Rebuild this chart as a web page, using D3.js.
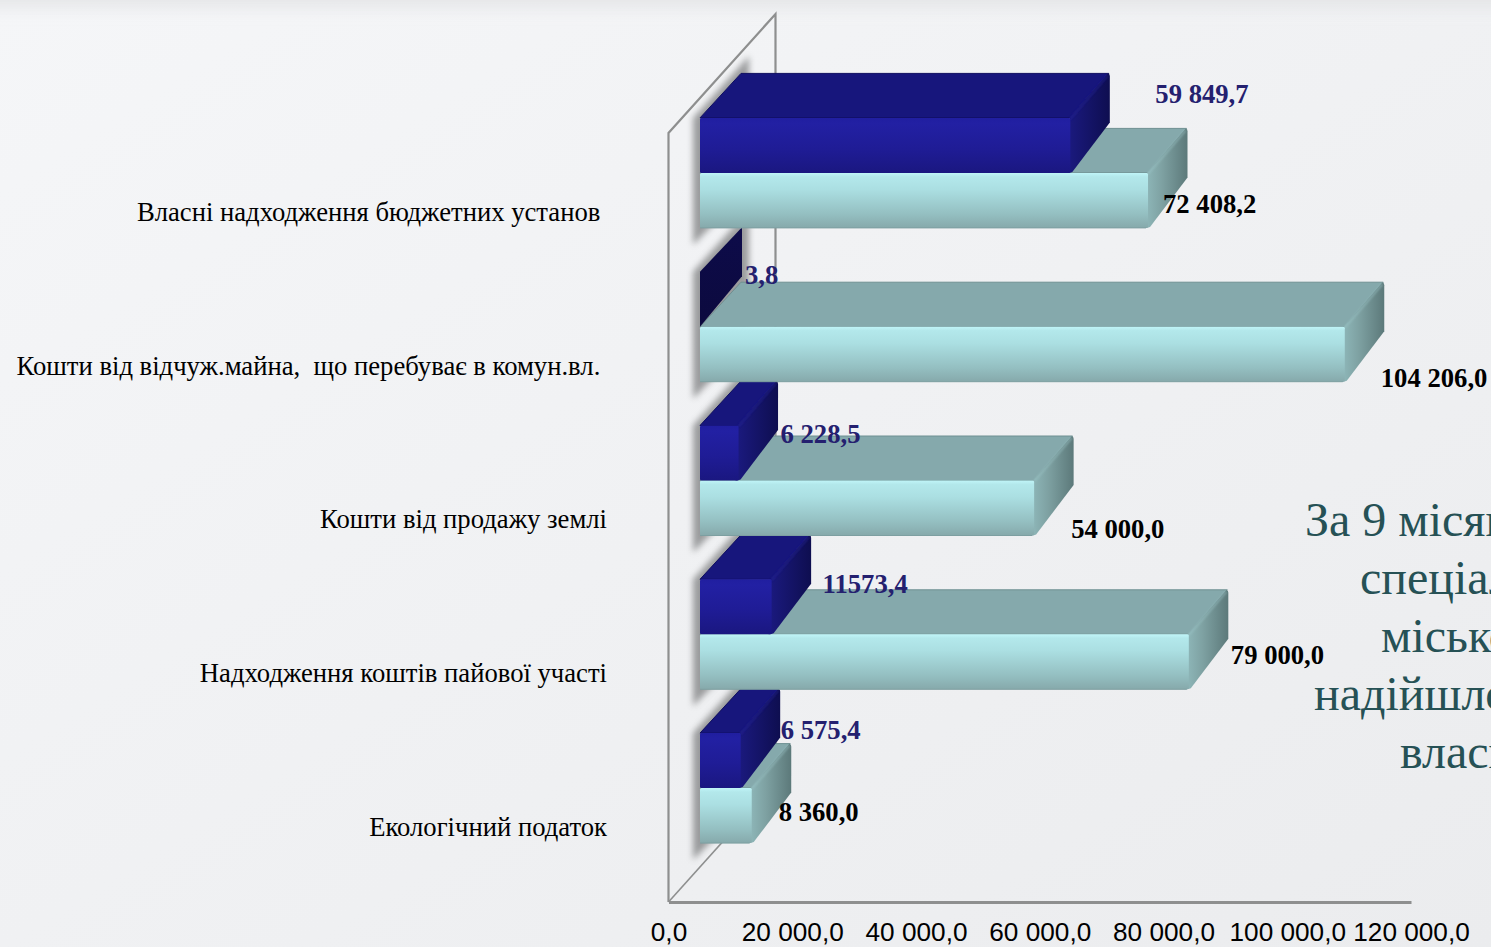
<!DOCTYPE html>
<html lang="uk"><head><meta charset="utf-8">
<script src="https://cdn.jsdelivr.net/npm/d3@7"></script>
<style>html,body{margin:0;padding:0;overflow:hidden;background:#eff0f2}svg{display:block}text{white-space:pre}</style>
</head><body><svg id="c" width="1491" height="947"></svg>
<script>
const categories = ["Власні надходження бюджетних установ ","Кошти від відчуж.майна,  що перебуває в комун.вл. ","Кошти від продажу землі","Надходження коштів пайової участі","Екологічний податок"];
const actualValues = [59849.7,3.8,6228.5,11573.4,6575.4];
const planValues = [72408.2,104206.0,54000.0,79000.0,8360.0];
const actualLabels = ["59 849,7","3,8","6 228,5","11573,4","6 575,4"];
const planLabels = ["72 408,2","104 206,0","54 000,0","79 000,0","8 360,0"];
const xTicks = [0,20000,40000,60000,80000,100000,120000];
const noteLines = ["За 9 місяц","спеціал","міськог","надійшло","власн"];
// label placement relative to each bar's end (layout only)
const actualNudge = [[85,-15],[45,12],[42,17],[51,14],[40,6]];
const planNudge = [[15,-15],[36,5],[37,2],[42,-25],[27,-22]];

const W=1491,H=947;
const svg=d3.select("#c");
const defs=svg.append("defs");
function lin(id,x2,y2,stops){
  const g=defs.append("linearGradient").attr("id",id).attr("x1",0).attr("y1",0).attr("x2",x2).attr("y2",y2);
  stops.forEach(s=>g.append("stop").attr("offset",s[0]).attr("stop-color",s[1]));
}
lin("bg",1,1,[[0,"#f5f6f8"],[.5,"#f0f1f3"],[1,"#ebecee"]]);
lin("lightFront",0,1,[[0,"#c0f5f8"],[.07,"#b3e8eb"],[.3,"#abdfe2"],[.75,"#94bfc1"],[1,"#86a9ab"]]);
lin("lightSide",1,0,[[0,"#8fb8ba"],[.4,"#7ea1a2"],[1,"#5c797a"]]);
lin("darkFront",0,1,[[0,"#201ea0"],[.1,"#2220a3"],[.55,"#1f1c96"],[1,"#1a1780"]]);
lin("darkSide",1,0,[[0,"#1b1a80"],[1,"#0e0e50"]]);
lin("darkThin",0,1,[[0,"#0d0b4a"],[1,"#0c0a3e"]]);
const blur=defs.append("filter").attr("id","soft").attr("x","-40%").attr("y","-40%").attr("width","180%").attr("height","180%");
blur.append("feGaussianBlur").attr("stdDeviation",3.2);
const fadeTop=defs.append("filter").attr("id","bandblur").attr("x","-5%").attr("y","-100%").attr("width","110%").attr("height","300%");
fadeTop.append("feGaussianBlur").attr("stdDeviation",8);
const soften=defs.append("filter").attr("id","edge").attr("x","-20%").attr("y","-20%").attr("width","140%").attr("height","140%");
soften.append("feGaussianBlur").attr("stdDeviation",0.9);

svg.append("rect").attr("width",W).attr("height",H).attr("fill","url(#bg)");
svg.append("rect").attr("x",-30).attr("y",-20).attr("width",W+60).attr("height",28).attr("fill","#e2e3e5").attr("filter","url(#bandblur)").attr("opacity",.8);

const x=d3.scaleLinear().domain([0,120000]).range([668.5,1411]);
const y=d3.scaleBand().domain(categories).range([133,902]).padding(0);
const floorY=902,wallDX=107,wallDY=-119;
const planeDX=31.5,planeDY=-37;     // plane of the bars' front faces
const depthDX=39.5,depthDY=-44.5;   // bar depth
const barH=55;

// walls
const wall=svg.append("g").attr("fill","none").attr("stroke","#8e8f8f");
const x0=x(0),wallTop=y.range()[0];
wall.append("path").attr("stroke-width",2.2).attr("d",`M${x0},${floorY}V${wallTop}L${x0+wallDX},${wallTop+wallDY}V${floorY+wallDY}`);
wall.append("path").attr("stroke-width",1.6).attr("d",`M${x0},${floorY}L${x0+wallDX},${floorY+wallDY}`);

// shadows on back wall
const shadow=svg.append("g").attr("filter","url(#soft)").attr("fill","#727374").attr("opacity",.68);
categories.forEach(c=>{
  const cy=y(c)+y.bandwidth()/2+planeDY, l=x0+planeDX-7;
  shadow.append("path").attr("d",`M${l},${cy-barH}L${l+56},${cy-barH-62}L${l+56},${cy+barH-40}L${l},${cy+barH+17}Z`);
});

function bar(g,val,y0,kind){
  const a=x0+planeDX,b=x(val)+planeDX,dx=depthDX,dy=depthDY,h=barH;
  const thin=b-a<1;
  if(thin){
    g.append("path").attr("fill","url(#darkThin)")
      .attr("d",`M${a},${y0}L${a+dx+2.5},${y0+dy}V${y0+dy+h-6}L${a},${y0+h}Z`);
    return;
  }
  const light=kind==="light";
  g.append("path").attr("fill",light?"#85a9ac":"#17167c").attr("stroke",light?"#6e9092":"#0f0e60").attr("stroke-width",1)
    .attr("stroke-linejoin","round").attr("d",`M${a},${y0}L${a+dx+1.5},${y0+dy}H${b+dx-1}L${b},${y0}Z`);
  g.append("path").attr("fill",`url(#${kind}Side)`)
    .attr("d",`M${b-1},${y0}L${b+dx-2},${y0+dy+.5}Q${b+dx},${y0+dy} ${b+dx},${y0+dy+3}V${y0+dy+h-6}L${b+2},${y0+h-1}Q${b},${y0+h} ${b-3},${y0+h}Z`);
  g.append("path").attr("fill","none").attr("stroke",light?"#9ac2c4":"#25239a").attr("stroke-width",1.6).attr("opacity",.7).attr("filter","url(#edge)")
    .attr("d",`M${b},${y0+1}L${b+dx-2},${y0+dy+2}`);
  g.append("rect").attr("x",a).attr("y",y0).attr("width",b-a).attr("height",h).attr("rx",1.5).attr("fill",`url(#${kind}Front)`);
  if(light) g.append("path").attr("fill","none").attr("stroke","#7d9fa1").attr("stroke-width",1).attr("d",`M${a},${y0+h}H${b-2}`);
}
const bars=svg.append("g");
d3.range(categories.length-1,-1,-1).forEach(i=>{
  const c=categories[i], mid=y(c)+y.bandwidth()/2+planeDY;
  const g=bars.append("g");
  bar(g,planValues[i],mid,"light");
  bar(g,actualValues[i],mid-barH,"dark");
});

// category labels
svg.append("g").selectAll("text").data(categories).join("text")
  .attr("x",607).attr("y",d=>y(d)+y.bandwidth()/2+1.5).attr("dy","0.35em").attr("text-anchor","end")
  .attr("font-family","Liberation Serif").attr("font-size",26.67).attr("fill","#000").text(d=>d);

// value labels
const vl=svg.append("g").attr("font-family","Liberation Serif").attr("font-weight","bold").attr("font-size",26.67);
categories.forEach((c,i)=>{
  const mid=y(c)+y.bandwidth()/2+planeDY;
  vl.append("text").attr("x",x(actualValues[i])+planeDX+actualNudge[i][0]).attr("y",mid-barH+actualNudge[i][1]).attr("fill","#24206f").text(actualLabels[i]);
  vl.append("text").attr("x",x(planValues[i])+planeDX+planNudge[i][0]).attr("y",mid+barH+planNudge[i][1]).attr("fill","#000").text(planLabels[i]);
});

// x axis
const loc=d3.formatLocale({decimal:",",thousands:" ",grouping:[3],currency:["",""]});
const axis=d3.axisBottom(x).tickValues(xTicks).tickSize(0).tickPadding(20).tickFormat(loc.format(",.1f"));
const ax=svg.append("g").attr("transform",`translate(0,${floorY})`).call(axis);
ax.select(".domain").attr("stroke","#8e8f8f").attr("stroke-width",3);
ax.selectAll("text").attr("font-family","Liberation Sans").attr("font-size",26.2).attr("fill","#000");

// note running past the right edge, as in the reference
const noteX=[1305,1360,1381,1314,1400];
svg.append("g").selectAll("text").data(noteLines).join("text")
  .attr("x",(d,i)=>noteX[i]).attr("y",(d,i)=>536+i*58)
  .attr("font-family","Liberation Serif").attr("font-size",48).attr("fill","#265155").text(d=>d);
</script></body></html>
